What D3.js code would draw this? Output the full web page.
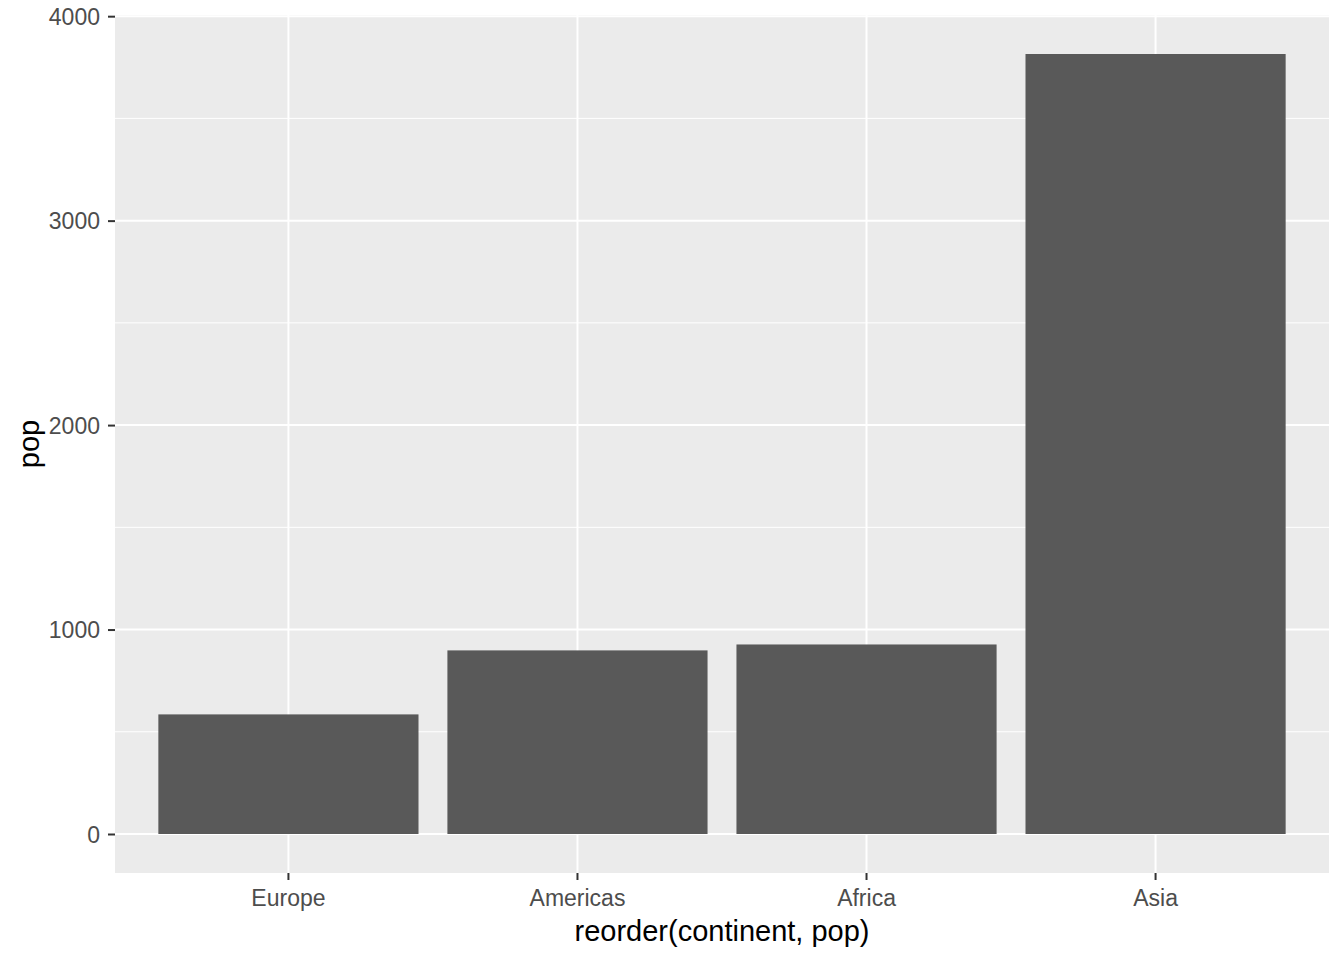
<!DOCTYPE html>
<html><head><meta charset="utf-8">
<script src="https://cdn.jsdelivr.net/npm/d3@7"></script>
<style>body{margin:0;background:#fff}</style>
</head><body>
<script>
const categories = ["Europe", "Americas", "Africa", "Asia"];
const popValues = [585, 898, 927, 3815];
const yTicks = [0, 1000, 2000, 3000, 4000];
const yMinor = [500, 1500, 2500, 3500];

const W = 1344, H = 960;
const panel = {left: 115, right: 1329, top: 15, bottom: 873};
const FONT = "Liberation Sans, Arial, sans-serif";
const svg = d3.select("body").append("svg").attr("width", W).attr("height", H);

const maxV = d3.max(popValues);
const y = d3.scaleLinear().domain([-0.05 * maxV, 1.05 * maxV]).range([panel.bottom, panel.top]);
const xc = d3.scaleLinear().domain([0.4, categories.length + 0.6]).range([panel.left, panel.right]);
const x = d3.scaleBand().domain(categories)
  .range([xc(0.5), xc(categories.length + 0.5)]).paddingInner(0.1).paddingOuter(0.05);

svg.append("rect").attr("x", panel.left).attr("y", panel.top)
  .attr("width", panel.right - panel.left).attr("height", panel.bottom - panel.top).attr("fill", "#EBEBEB");

const g = svg.append("g");
g.selectAll(".minor").data(yMinor).join("line")
  .attr("x1", panel.left).attr("x2", panel.right)
  .attr("y1", d => y(d)).attr("y2", d => y(d))
  .attr("stroke", "#fff").attr("stroke-width", 1);
g.selectAll(".major").data(yTicks).join("line")
  .attr("x1", panel.left).attr("x2", panel.right)
  .attr("y1", d => y(d)).attr("y2", d => y(d))
  .attr("stroke", "#fff").attr("stroke-width", 2);
g.selectAll(".vmajor").data(categories).join("line")
  .attr("y1", panel.top).attr("y2", panel.bottom)
  .attr("x1", d => x(d) + x.bandwidth() / 2).attr("x2", d => x(d) + x.bandwidth() / 2)
  .attr("stroke", "#fff").attr("stroke-width", 2);

svg.selectAll(".bar").data(categories).join("rect")
  .attr("x", d => x(d)).attr("width", x.bandwidth())
  .attr("y", (d, i) => y(popValues[i]))
  .attr("height", (d, i) => y(0) - y(popValues[i]))
  .attr("fill", "#595959");

// Y axis
const yAxis = d3.axisLeft(y).tickValues(yTicks).tickFormat(d3.format("d")).tickSize(7).tickPadding(8);
const ya = svg.append("g").attr("transform", `translate(${panel.left},0)`).call(yAxis);
ya.select(".domain").remove();
ya.selectAll(".tick line").attr("stroke", "#333").attr("stroke-width", 2);
ya.selectAll(".tick text").attr("fill", "#4D4D4D").attr("dy", "0.36em")
  .style("font-family", FONT).style("font-size", "23px");

// X axis
const xAxis = d3.axisBottom(x).tickSize(7).tickPadding(6);
const xa = svg.append("g").attr("transform", `translate(0,${panel.bottom})`).call(xAxis);
xa.select(".domain").remove();
xa.selectAll(".tick line").attr("stroke", "#333").attr("stroke-width", 2);
xa.selectAll(".tick text").attr("fill", "#4D4D4D").attr("y", 33).attr("dy", null)
  .style("font-family", FONT).style("font-size", "23px");

svg.append("text").attr("x", (panel.left + panel.right) / 2).attr("y", 941)
  .attr("text-anchor", "middle").attr("fill", "#000")
  .style("font-family", FONT).style("font-size", "29px")
  .text("reorder(continent, pop)");
svg.append("text").attr("transform", `translate(39,${(panel.top + panel.bottom) / 2}) rotate(-90)`)
  .attr("text-anchor", "middle").attr("fill", "#000")
  .style("font-family", FONT).style("font-size", "29px")
  .text("pop");
</script>
</body></html>
